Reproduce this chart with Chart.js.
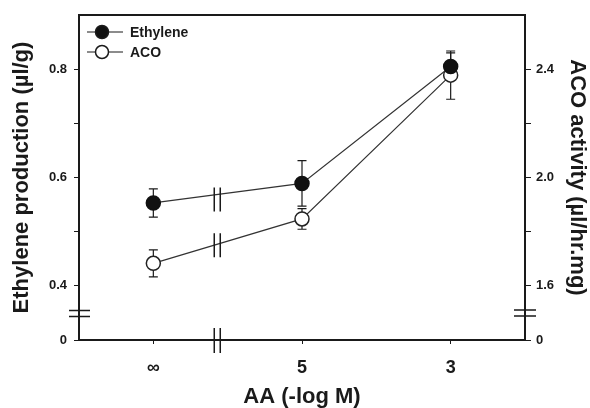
<!DOCTYPE html>
<html>
<head>
<meta charset="utf-8">
<script src="https://cdn.jsdelivr.net/npm/chart.js@4.4.0/dist/chart.umd.min.js"></script>
<style>
body { margin: 0; background: #fff; }
#wrap { width: 590px; height: 408px; }
</style>
</head>
<body>
<div id="wrap"><canvas id="chart" width="590" height="408"></canvas></div>
<script>
// values
const categories = ['∞', '5', '3'];
const ethylene = [0.553, 0.589, 0.805];
const ethyleneErr = [0.026, 0.042, 0.025];
const aco = [1.683, 1.847, 2.378];
const acoErr = [0.05, 0.038, 0.089];

const leftTicks = [0.3, 0.4, 0.5, 0.6, 0.7, 0.8];
const leftTickLabels = ['0', '0.4', '', '0.6', '', '0.8'];
const rightTicks = [1.4, 1.6, 1.8, 2.0, 2.2, 2.4];
const rightTickLabels = ['0', '1.6', '', '2.0', '', '2.4'];

// axis breaks
const breakX = 0.43;
const leftBreak = 0.349;
const rightBreak = 1.5;

const FONT = '"Liberation Sans", Arial, sans-serif';
const INK = '#1a1a1a';

const errorBars = {
    id: 'errorBars',
    beforeDatasetsDraw(chart) {
        const ctx = chart.ctx;
        const xScale = chart.scales.x;
        ctx.save();
        ctx.strokeStyle = INK;
        ctx.lineWidth = 1.2;
        chart.data.datasets.forEach((ds) => {
            const yScale = chart.scales[ds.yAxisID];
            ds.data.forEach((p, i) => {
                const x = xScale.getPixelForValue(p.x);
                const top = yScale.getPixelForValue(p.y + ds.errors[i]);
                const bot = yScale.getPixelForValue(p.y - ds.errors[i]);
                ctx.beginPath();
                ctx.moveTo(x, top); ctx.lineTo(x, bot);
                ctx.moveTo(x - 4.5, top); ctx.lineTo(x + 4.5, top);
                ctx.moveTo(x - 4.5, bot); ctx.lineTo(x + 4.5, bot);
                ctx.stroke();
            });
        });
        ctx.restore();
    },
    afterDatasetsDraw(chart) {
        // break marks on the lines
        const ctx = chart.ctx;
        const xScale = chart.scales.x;
        const bx = xScale.getPixelForValue(breakX);
        ctx.save();
        ctx.strokeStyle = INK;
        ctx.lineWidth = 1.5;
        chart.data.datasets.forEach((ds, di) => {
            const yScale = chart.scales[ds.yAxisID];
            const x0 = xScale.getPixelForValue(ds.data[0].x);
            const x1 = xScale.getPixelForValue(ds.data[1].x);
            const y0 = yScale.getPixelForValue(ds.data[0].y);
            const y1 = yScale.getPixelForValue(ds.data[1].y);
            const by = y0 + (y1 - y0) * (bx - x0) / (x1 - x0);
            const up = di === 0 ? 7 : 11;
            ctx.beginPath();
            ctx.moveTo(bx - 3, by - up); ctx.lineTo(bx - 3, by + 24 - up);
            ctx.moveTo(bx + 3, by - up); ctx.lineTo(bx + 3, by + 24 - up);
            ctx.stroke();
        });
        ctx.restore();
    },
    afterDraw(chart) {
        const ctx = chart.ctx;
        const area = chart.chartArea;
        const xScale = chart.scales.x;
        ctx.save();
        ctx.strokeStyle = INK;
        // top frame line
        ctx.lineWidth = 2;
        ctx.beginPath();
        ctx.moveTo(area.left - 1, area.top);
        ctx.lineTo(area.right + 1, area.top);
        ctx.stroke();

        ctx.lineWidth = 1.5;
        // left axis break
        const ly = chart.scales.y.getPixelForValue(leftBreak);
        ctx.beginPath();
        ctx.moveTo(area.left - 10, ly - 3); ctx.lineTo(area.left + 11, ly - 3);
        ctx.moveTo(area.left - 10, ly + 3); ctx.lineTo(area.left + 11, ly + 3);
        // right axis break
        const ry = chart.scales.y2.getPixelForValue(rightBreak);
        ctx.moveTo(area.right - 11, ry - 3); ctx.lineTo(area.right + 11, ry - 3);
        ctx.moveTo(area.right - 11, ry + 3); ctx.lineTo(area.right + 11, ry + 3);
        // x axis break
        const bx = xScale.getPixelForValue(breakX);
        ctx.moveTo(bx - 3, area.bottom - 12); ctx.lineTo(bx - 3, area.bottom + 13);
        ctx.moveTo(bx + 3, area.bottom - 12); ctx.lineTo(bx + 3, area.bottom + 13);
        ctx.stroke();

        // legend
        ctx.font = 'bold 14px ' + FONT;
        ctx.textBaseline = 'middle';
        ctx.fillStyle = INK;
        chart.data.datasets.forEach((ds, i) => {
            const y = area.top + 17 + i * 20;
            const x = area.left + 8;
            ctx.lineWidth = 1.2;
            ctx.beginPath();
            ctx.moveTo(x, y); ctx.lineTo(x + 36, y);
            ctx.stroke();
            ctx.beginPath();
            ctx.arc(x + 15, y, 6.5, 0, Math.PI * 2);
            ctx.fillStyle = ds.pointBackgroundColor;
            ctx.fill();
            ctx.lineWidth = 1.5;
            ctx.stroke();
            ctx.fillStyle = INK;
            ctx.fillText(ds.label, x + 43, y + 1);
        });
        ctx.restore();
    }
};

const tickFont = { family: FONT, size: 13, weight: 'bold' };
const titleFont = { family: FONT, size: 22, weight: 'bold', lineHeight: 1 };

new Chart(document.getElementById('chart').getContext('2d'), {
    type: 'line',
    data: {
        datasets: [
            {
                label: 'Ethylene',
                data: ethylene.map((v, i) => ({ x: i, y: v })),
                errors: ethyleneErr,
                yAxisID: 'y',
                borderColor: '#333',
                borderWidth: 1.2,
                pointRadius: 7,
                pointBackgroundColor: '#111',
                pointBorderColor: '#111',
                pointBorderWidth: 1.5
            },
            {
                label: 'ACO',
                data: aco.map((v, i) => ({ x: i, y: v })),
                errors: acoErr,
                yAxisID: 'y2',
                borderColor: '#333',
                borderWidth: 1.2,
                pointRadius: 7,
                pointBackgroundColor: '#fff',
                pointBorderColor: '#222',
                pointBorderWidth: 1.5
            }
        ]
    },
    options: {
        responsive: false,
        animation: false,
        layout: { padding: { top: 15, left: 0, right: 0, bottom: 0 } },
        plugins: { legend: { display: false }, tooltip: { enabled: false } },
        scales: {
            x: {
                type: 'linear',
                min: -0.5,
                max: 2.5,
                afterBuildTicks: (s) => { s.ticks = categories.map((c, i) => ({ value: i })); },
                afterFit: (s) => { s.height = 68; },
                ticks: {
                    font: { family: FONT, size: 18, weight: 'bold' },
                    color: INK,
                    padding: 13,
                    callback: (v) => categories[v]
                },
                grid: { drawOnChartArea: false, tickLength: 4, color: INK, lineWidth: 1 },
                border: { color: INK, width: 2 },
                title: { display: true, text: 'AA (-log M)', font: titleFont, color: INK, padding: 0 }
            },
            y: {
                position: 'left',
                min: 0.3,
                max: 0.9,
                afterBuildTicks: (s) => { s.ticks = leftTicks.map((v) => ({ value: v })); },
                afterFit: (s) => { s.width = 79; },
                ticks: {
                    font: tickFont,
                    color: INK,
                    padding: 7,
                    callback: (v, i) => leftTickLabels[i]
                },
                grid: { drawOnChartArea: false, tickLength: 5, color: INK, lineWidth: 1 },
                border: { color: INK, width: 2 },
                title: { display: true, text: 'Ethylene production (µl/g)', font: titleFont, color: INK, padding: { top: 11, bottom: 0 } }
            },
            y2: {
                position: 'right',
                min: 1.4,
                max: 2.6,
                afterBuildTicks: (s) => { s.ticks = rightTicks.map((v) => ({ value: v })); },
                afterFit: (s) => { s.width = 65; },
                ticks: {
                    font: tickFont,
                    color: INK,
                    padding: 5,
                    callback: (v, i) => rightTickLabels[i]
                },
                grid: { drawOnChartArea: false, tickLength: 6, color: INK, lineWidth: 1 },
                border: { color: INK, width: 2 },
                title: { display: true, text: 'ACO activity (µl/hr.mg)', font: titleFont, color: INK, padding: { top: 2, bottom: 0 } }
            }
        }
    },
    plugins: [errorBars]
});
</script>
</body>
</html>
